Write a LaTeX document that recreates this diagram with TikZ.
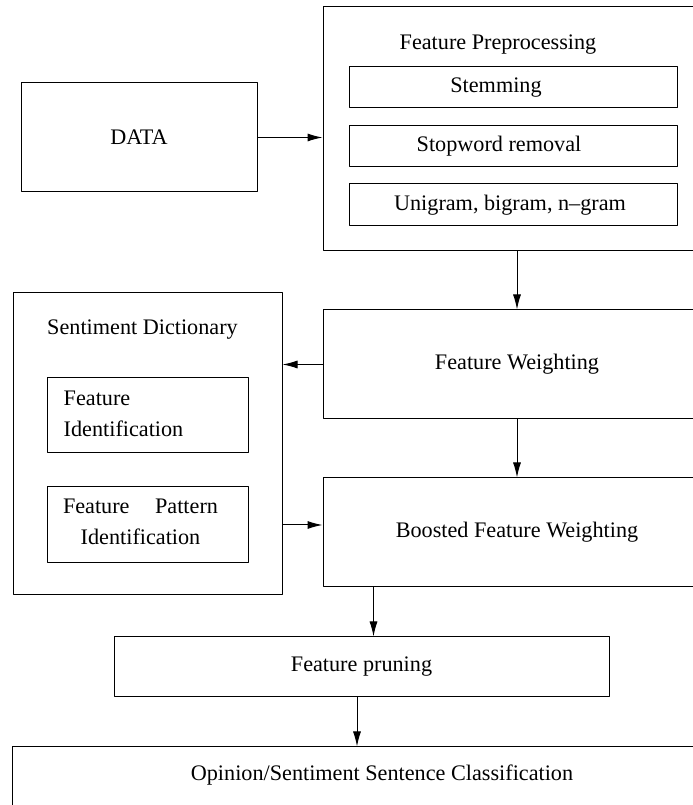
\documentclass[tikz,border=0pt]{standalone}
\usepackage{fontspec}
\setmainfont{Liberation Serif}
\usetikzlibrary{arrows.meta}
\begin{document}
\begin{tikzpicture}[>={Latex[length=15bp,width=8bp]},line join=bevel,line width=1bp,
  every node/.style={font=\fontsize{22.2bp}{31bp}\selectfont},
  box/.style={draw=black,rectangle,inner sep=0bp}]
\useasboundingbox (0bp,0bp) rectangle (693bp,805bp);
%%
\node (data) at (139bp,667.5bp) [box,minimum width=236bp,minimum height=109bp] {DATA};
  \node (prep) at (517bp,676bp) [box,minimum width=388bp,minimum height=244bp] {};
  \node (prep_title) at (498bp,760bp) [draw=none] {Feature Preprocessing};
  \node (stem) at (513bp,717.5bp) [box,minimum width=328bp,minimum height=41bp,label={[xshift=-17bp]center:Stemming}] {};
  \node (stop) at (513bp,658.5bp) [box,minimum width=328bp,minimum height=41bp,label={[xshift=-14bp]center:Stopword removal}] {};
  \node (ngram) at (513bp,600bp) [box,minimum width=328bp,minimum height=42bp,label={[xshift=-3bp]center:Unigram, bigram, n{\textendash}gram}] {};
  \node (fw) at (517bp,440.5bp) [box,minimum width=388bp,minimum height=109bp] {Feature Weighting};
  \node (boost) at (517bp,272.5bp) [box,minimum width=388bp,minimum height=109bp] {Boosted Feature Weighting};
  \node (dict) at (147.5bp,361bp) [box,minimum width=269bp,minimum height=302bp] {};
  \node (dict_title) at (142.5bp,475bp) [draw=none] {Sentiment Dictionary};
  \node (fid) at (147.5bp,389.5bp) [box,minimum width=201bp,minimum height=75bp,label={[xshift=-24bp,yshift=2bp,align=left]center:Feature\\Identification}] {};
  \node (fpid) at (147.5bp,280bp) [box,minimum width=201bp,minimum height=76bp,label={[xshift=-7bp,yshift=3bp,align=center]center:\makebox[155bp]{Feature\hfill Pattern}\\Identification}] {};
  \node (prune) at (361.5bp,138bp) [box,minimum width=495bp,minimum height=60bp] {Feature pruning};
  \node (opinion) at (382bp,24bp) [box,minimum width=740bp,minimum height=68bp,label={[yshift=6bp]center:Opinion/Sentiment Sentence Classification}] {};
  \draw [black,->] (data.east) -- (data.east -| prep.west);
  \draw [black,->] (prep.south) -- (fw.north);
  \draw [black,->] (fw.west) -- (fw.west -| dict.east);
  \draw [black,->] (fw.south) -- (boost.north);
  \draw [black,->] (fpid -| dict.east) -- (fpid -| boost.west);
  \draw [black,->] ([xshift=51bp]boost.south west) -- ([xshift=51bp]boost.south west |- prune.north);
  \draw [black,->] ([xshift=-4.5bp]prune.south) -- ([xshift=-4.5bp]prune.south |- opinion.north);
%
\end{tikzpicture}
\end{document}
